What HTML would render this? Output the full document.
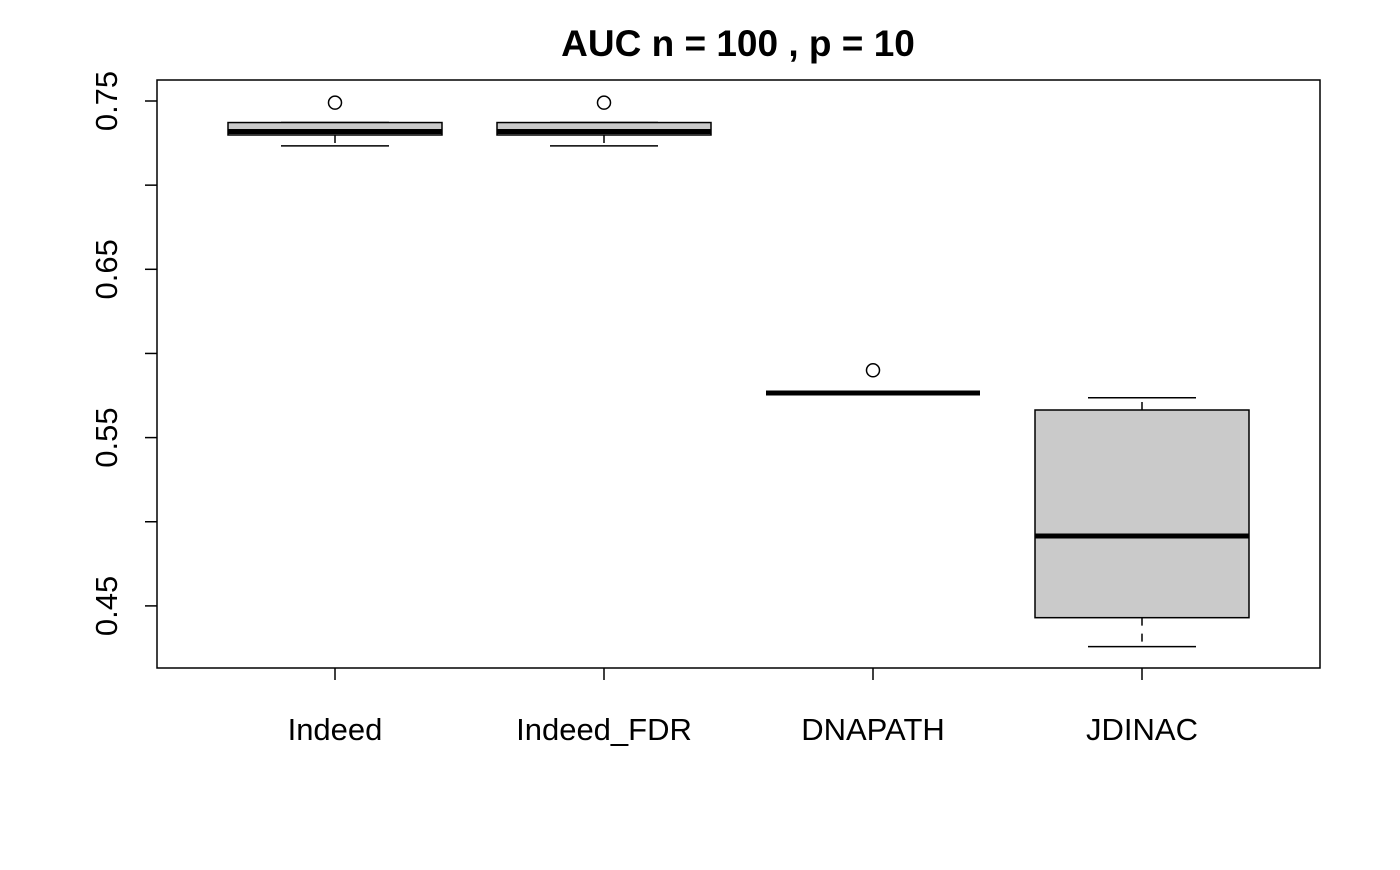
<!DOCTYPE html>
<html><head><meta charset="utf-8"><style>
body{margin:0;background:#fff}
svg text{font-family:"Liberation Sans",Arial,sans-serif;fill:#000}
</style></head><body>
<svg id="chart" width="1400" height="865" xmlns="http://www.w3.org/2000/svg">
<text x="738" y="56" font-size="37" font-weight="bold" text-anchor="middle">AUC n = 100 , p = 10</text>
<rect x="157" y="80" width="1163" height="588" fill="none" stroke="#000" stroke-width="1.5"/>
<g id="marks"></g>
</svg>
<script>
const categories=["Indeed","Indeed_FDR","DNAPATH","JDINAC"];
const whiskerLow=[0.7233,0.7233,0.5765,0.4258];
const q1=[0.7298,0.7298,0.5765,0.4430];
const medians=[0.7319,0.7319,0.5765,0.4915];
const q3=[0.7372,0.7372,0.5765,0.5664];
const whiskerHigh=[0.7372,0.7372,0.5765,0.5737];
const outliers=[[0.749],[0.749],[0.590],[]];
const yTicks=[0.45,0.50,0.55,0.60,0.65,0.70,0.75];
const yTickLabels=["0.45","","0.55","","0.65","","0.75"];

const NS="http://www.w3.org/2000/svg";
const g=document.getElementById('marks');
const yv=v=>101+(0.75-v)*1683;
const xc=i=>335+i*269;
function mk(t,a){const e=document.createElementNS(NS,t);for(const k in a)e.setAttribute(k,a[k]);g.appendChild(e);return e;}
yTicks.forEach((v,i)=>{
 const t=mk('line',{x1:145,x2:157,y1:yv(v),y2:yv(v),stroke:'#000','stroke-width':1.5});
 
 
 if(yTickLabels[i]){
  const l=mk('text',{x:0,y:0,'font-size':31,'text-anchor':'middle',transform:`translate(117,${yv(v)}) rotate(-90)`});
  l.textContent=yTickLabels[i];
  
  
 }
});
categories.forEach((c,i)=>{
 const x=xc(i),hw=107,cw=54;
 const t=mk('line',{x1:x,x2:x,y1:668,y2:680,stroke:'#000','stroke-width':1.5});
 
 
 const l=mk('text',{x:x,y:740,'font-size':31,'text-anchor':'middle'});
 l.textContent=c;
 
 
 const w1=mk('line',{x1:x,x2:x,y1:yv(q1[i]),y2:yv(whiskerLow[i]),stroke:'#000','stroke-width':1.5,'stroke-dasharray':'8,8'});
 
 
 const w2=mk('line',{x1:x,x2:x,y1:yv(q3[i]),y2:yv(whiskerHigh[i]),stroke:'#000','stroke-width':1.5,'stroke-dasharray':'8,8'});
 
 
 [whiskerLow[i],whiskerHigh[i]].forEach(v=>{
  const cap=mk('line',{x1:x-cw,x2:x+cw,y1:yv(v),y2:yv(v),stroke:'#000','stroke-width':1.5});
  
  
 });
 const b=mk('rect',{x:x-hw,y:yv(q3[i]),width:2*hw,height:Math.max(0,yv(q1[i])-yv(q3[i])),fill:'#cacaca',stroke:'#000','stroke-width':1.5});
 
 
 const m=mk('line',{x1:x-hw,x2:x+hw,y1:yv(medians[i]),y2:yv(medians[i]),stroke:'#000','stroke-width':5});
 
 
 outliers[i].forEach(v=>{
  const o=mk('circle',{cx:x,cy:yv(v),r:6.5,fill:'none',stroke:'#000','stroke-width':1.5});
  
  
 });
});
</script>
</body></html>
